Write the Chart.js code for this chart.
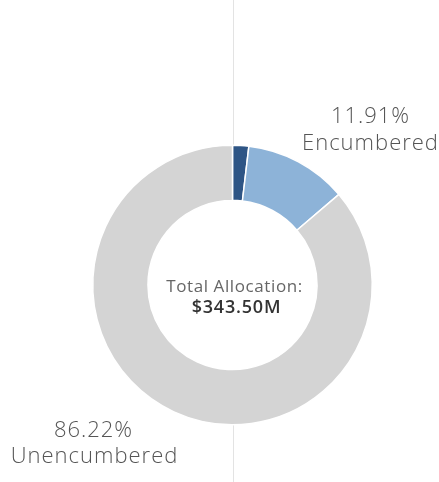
<!DOCTYPE html>
<html>
<head>
<meta charset="utf-8">
<script src="https://cdn.jsdelivr.net/npm/chart.js@4/dist/chart.umd.min.js"></script>
<style>
  html, body { margin: 0; padding: 0; background: #fff; }
  #wrap { width: 439px; height: 482px; }
</style>
</head>
<body>
<div id="wrap"><canvas id="chart1"></canvas></div>
<script>
var categories = ['Expended', 'Encumbered', 'Unencumbered'];
var shares = [1.87, 11.91, 86.22];
var colours = ['#2e5585', '#8db3d8', '#d4d4d4'];
var totalLabel = 'Total Allocation:';
var totalValue = '$343.50M';

// vertical guide line behind the ring, plus the text labels
var decorations = {
	id: 'decorations',
	beforeDatasetsDraw: function(chart) {
		var ctx = chart.ctx;
		var arc = chart.getDatasetMeta(0).data[0];
		ctx.save();
		ctx.strokeStyle = '#e3e3e3';
		ctx.lineWidth = 1;
		ctx.beginPath();
		ctx.moveTo(Math.round(arc.x) + 0.5, 0);
		ctx.lineTo(Math.round(arc.x) + 0.5, chart.height);
		ctx.stroke();
		ctx.restore();
	},
	afterDatasetsDraw: function(chart) {
		var ctx = chart.ctx;
		var arc = chart.getDatasetMeta(0).data[0];
		var cx = arc.x, cy = arc.y;
		ctx.save();
		ctx.fillStyle = '#fff';
		ctx.beginPath();
		ctx.arc(cx, cy, arc.innerRadius - 0.5, 0, Math.PI * 2);
		ctx.fill();

		ctx.textAlign = 'center';
		ctx.textBaseline = 'alphabetic';
		ctx.fillStyle = '#666';
		ctx.letterSpacing = '0.6px';
		ctx.font = '17px "Open Sans", sans-serif';
		ctx.fillText(totalLabel, cx + 2, cy + 7);
		ctx.fillStyle = '#333';
		ctx.letterSpacing = '0.8px';
		ctx.font = '600 18px "Open Sans", sans-serif';
		ctx.fillText(totalValue, cx + 4, cy + 28);

		ctx.fillStyle = '#555';
		ctx.letterSpacing = '1px';
		ctx.font = '300 22px "Open Sans", sans-serif';
		ctx.fillText(shares[1].toFixed(2) + '%', cx + 138, cy - 162);
		ctx.fillText(categories[1], cx + 138, cy - 135);
		ctx.fillText(shares[2].toFixed(2) + '%', cx - 139, cy + 152);
		ctx.fillText(categories[2], cx - 138, cy + 178);
		ctx.restore();
	}
};

var ctx = document.getElementById('chart1').getContext('2d');
new Chart(ctx, {
	type: 'doughnut',
	data: {
		labels: categories,
		datasets: [{
			data: shares,
			backgroundColor: colours,
			borderColor: '#fff',
			borderWidth: 1.5
		}]
	},
	options: {
		responsive: true,
		maintainAspectRatio: false,
		animation: false,
		cutout: '60.5%',
		layout: {
			padding: { left: 92, right: 66, top: 144, bottom: 56 }
		},
		plugins: {
			legend: { display: false },
			tooltip: { enabled: false }
		}
	},
	plugins: [decorations]
});
</script>
</body>
</html>
